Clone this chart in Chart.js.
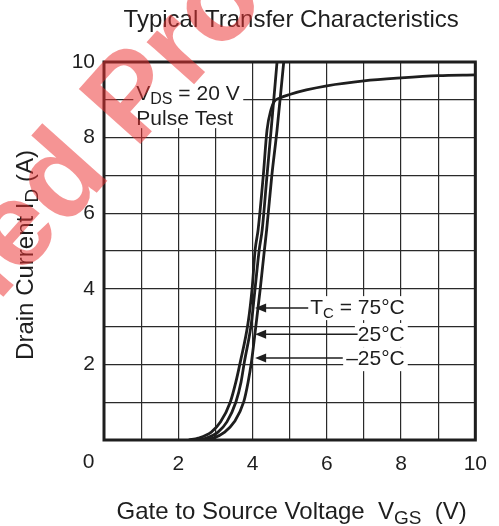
<!DOCTYPE html>
<html><head><meta charset="utf-8">
<script src="https://cdn.jsdelivr.net/npm/chart.js@4"></script>
<style>html,body{margin:0;padding:0;background:#fff;}#wrap{width:499px;height:526px;}</style>
</head><body><div id="wrap"><canvas id="c" width="499" height="526"></canvas></div>
<script>
// ---- data ----
const seriesNames = ['75°C', '25°C', '–25°C'];
const vgs75 = [2.28, 2.54, 2.89, 3.14, 3.40, 3.55, 3.67, 3.88, 3.99, 4.07, 4.15, 4.29, 4.39, 4.50, 4.58, 4.74, 5.00, 5.45, 6.00, 7.00, 8.00, 9.00, 10.00];
const id75  = [0.00, 0.05, 0.21, 0.48, 1.00, 1.53, 2.06, 3.10, 4.02, 5.03, 5.56, 7.00, 8.20, 8.75, 8.95, 9.05, 9.14, 9.26, 9.37, 9.50, 9.58, 9.64, 9.66];
const vgs25 = [2.49, 2.76, 3.07, 3.31, 3.55, 3.69, 3.78, 3.97, 4.07, 4.18, 4.26, 4.39, 4.50, 4.66];
const id25  = [0.00, 0.05, 0.21, 0.48, 1.00, 1.53, 2.06, 3.10, 4.02, 5.03, 5.56, 7.00, 8.20, 10.00];
const vgsM25 = [2.67, 2.94, 3.25, 3.51, 3.76, 3.88, 3.97, 4.10, 4.21, 4.32, 4.38, 4.52, 4.66, 4.84];
const idM25  = [0.00, 0.05, 0.21, 0.48, 1.00, 1.53, 2.06, 3.10, 4.02, 5.03, 5.56, 7.00, 8.20, 10.00];
const xTickLabels = ['0', '2', '4', '6', '8', '10'];
const yTickLabels = ['2', '4', '6', '8', '10'];
const titleText = 'Typical Transfer Characteristics';
const xTitleParts = [['Gate to Source Voltage  V', false], ['GS', true], ['  (V)', false]];
const yTitleParts = [['Drain Current I', false], ['D', true], [' (A)', false]];
const condLine1 = [['V', false], ['DS', true], [' = 20 V', false]];
const condLine2 = [['Pulse Test', false]];
const labelParts = [
  [['T', false], ['C', true], [' = 75°C', false]],
  [['25°C', false]],
  [['–25°C', false]]
];
// annotation placement (data units)
const arrowTipV = [4.07, 4.07, 4.07];
const arrowY = [3.49, 2.80, 2.17];
const arrowEndV = [5.50, 6.83, 6.43];
const labelRightV = 8.10;
const labelBaseI = [3.33, 2.62, 1.98];

const FONT = '"Liberation Sans", Arial, Helvetica, sans-serif';
const INK = '#1e1e1e';
const f = px => px + 'px ' + FONT;

function pts(xs, ys) { return xs.map((x, i) => ({x: x, y: ys[i]})); }

function partsWidth(ctx, parts, size, subSize) {
  let w = 0;
  for (const [t, sub] of parts) { ctx.font = f(sub ? subSize : size); w += ctx.measureText(t).width; }
  return w;
}
function drawParts(ctx, parts, x, y, size, subSize, subDy, align) {
  const w = partsWidth(ctx, parts, size, subSize);
  let cx = align === 'center' ? x - w / 2 : align === 'right' ? x - w : x;
  ctx.textAlign = 'left';
  ctx.textBaseline = 'alphabetic';
  for (const [t, sub] of parts) {
    ctx.font = f(sub ? subSize : size);
    ctx.fillText(t, cx, sub ? y + subDy : y);
    cx += ctx.measureText(t).width;
  }
}

const decor = {
  id: 'decor',
  beforeDatasetsDraw(chart) {
    const ctx = chart.ctx, xs = chart.scales.x, ys = chart.scales.y, a = chart.chartArea;
    ctx.save();
    ctx.fillStyle = '#fff';
    ctx.fillRect(xs.getPixelForValue(0.79), a.top, xs.getPixelForValue(3.75) - xs.getPixelForValue(0.79), ys.getPixelForValue(8.25) - a.top);
    labelParts.forEach((p, i) => {
      const w = partsWidth(ctx, p, 21, 15);
      const r = xs.getPixelForValue(labelRightV), b = ys.getPixelForValue(labelBaseI[i]);
      ctx.fillRect(r - w - 3, b - 18, w + 6, 24);
    });
    ctx.restore();
  },
  afterDatasetsDraw(chart) {
    const ctx = chart.ctx, xs = chart.scales.x, ys = chart.scales.y, a = chart.chartArea;
    ctx.save();
    ctx.strokeStyle = INK; ctx.lineWidth = 3;
    ctx.strokeRect(a.left, a.top, a.right - a.left, a.bottom - a.top);
    ctx.fillStyle = INK;
    drawParts(ctx, condLine1, xs.getPixelForValue(0.87), ys.getPixelForValue(8.99), 21, 16, 4, 'left');
    drawParts(ctx, condLine2, xs.getPixelForValue(0.87), ys.getPixelForValue(8.33), 21, 16, 4, 'left');
    labelParts.forEach((p, i) => {
      drawParts(ctx, p, xs.getPixelForValue(labelRightV), ys.getPixelForValue(labelBaseI[i]), 21, 15, 4, 'right');
      const tx = xs.getPixelForValue(arrowTipV[i]), ty = ys.getPixelForValue(arrowY[i]);
      const ex = xs.getPixelForValue(arrowEndV[i]);
      ctx.lineWidth = 1.5; ctx.strokeStyle = INK;
      ctx.beginPath(); ctx.moveTo(tx + 8, ty); ctx.lineTo(ex, ty); ctx.stroke();
      ctx.beginPath(); ctx.moveTo(tx, ty); ctx.lineTo(tx + 11, ty - 4.5); ctx.lineTo(tx + 11, ty + 4.5); ctx.closePath(); ctx.fill();
    });
    ctx.restore();
  },
  afterDraw(chart) {
    const ctx = chart.ctx, xs = chart.scales.x, a = chart.chartArea;
    const mid = (a.left + a.right) / 2;
    ctx.save();
    ctx.fillStyle = INK;
    ctx.font = f(24); ctx.textAlign = 'center'; ctx.textBaseline = 'alphabetic';
    ctx.fillText(titleText, mid + 1.5, 27);
    drawParts(ctx, xTitleParts, mid + 2, 519, 24, 19, 5, 'center');
    ctx.save();
    ctx.translate(33, 255); ctx.rotate(-Math.PI / 2);
    drawParts(ctx, yTitleParts, 0, 0, 24, 19, 5, 'center');
    ctx.restore();
    ctx.font = f(21); ctx.textAlign = 'center'; ctx.textBaseline = 'middle';
    ctx.fillText(xTickLabels[0], xs.getPixelForValue(0) - 15.5, 462);
    // watermark
    ctx.save();
    ctx.fillStyle = 'rgba(236,50,50,0.52)';
    ctx.font = 'bold 120px ' + FONT;
    const wm = 'Discontinued Product', pre = 'Discontinued ';
    const pw = ctx.measureText(pre).width;
    ctx.translate(135, 150); ctx.rotate(-0.84);
    ctx.textAlign = 'left'; ctx.textBaseline = 'alphabetic';
    ctx.fillText(wm, -pw, 0);
    ctx.restore();
    ctx.restore();
  }
};

new Chart(document.getElementById('c'), {
  type: 'line',
  data: {
    datasets: [
      {label: seriesNames[0], data: pts(vgs75, id75)},
      {label: seriesNames[1], data: pts(vgs25, id25)},
      {label: seriesNames[2], data: pts(vgsM25, idM25)}
    ].map(d => Object.assign(d, {borderColor: INK, borderWidth: 2.8, pointRadius: 0, fill: false, cubicInterpolationMode: 'monotone'}))
  },
  options: {
    responsive: false, animation: false, devicePixelRatio: 1,
    layout: {padding: {top: 62, right: 17, left: 0, bottom: 0}},
    plugins: {legend: {display: false}, tooltip: {enabled: false}, title: {display: false}},
    scales: {
      x: {
        type: 'linear', min: 0, max: 10,
        afterFit: s => { s.height = 86; },
        grid: {color: '#2a2a2a', lineWidth: 1.2, drawTicks: false},
        border: {display: false},
        ticks: {stepSize: 1, autoSkip: false, maxRotation: 0, padding: 12, color: INK, font: {family: FONT, size: 21},
          callback: v => (v !== 0 && xTickLabels.includes(String(v))) ? String(v) : ''}
      },
      y: {
        type: 'linear', min: 0, max: 10,
        afterFit: s => { s.width = 104; },
        grid: {color: '#2a2a2a', lineWidth: 1.2, drawTicks: false},
        border: {display: false},
        ticks: {stepSize: 1, autoSkip: false, padding: 9, color: INK, font: {family: FONT, size: 21},
          callback: v => yTickLabels.includes(String(v)) ? String(v) : ''}
      }
    }
  },
  plugins: [decor]
});
</script></body></html>
